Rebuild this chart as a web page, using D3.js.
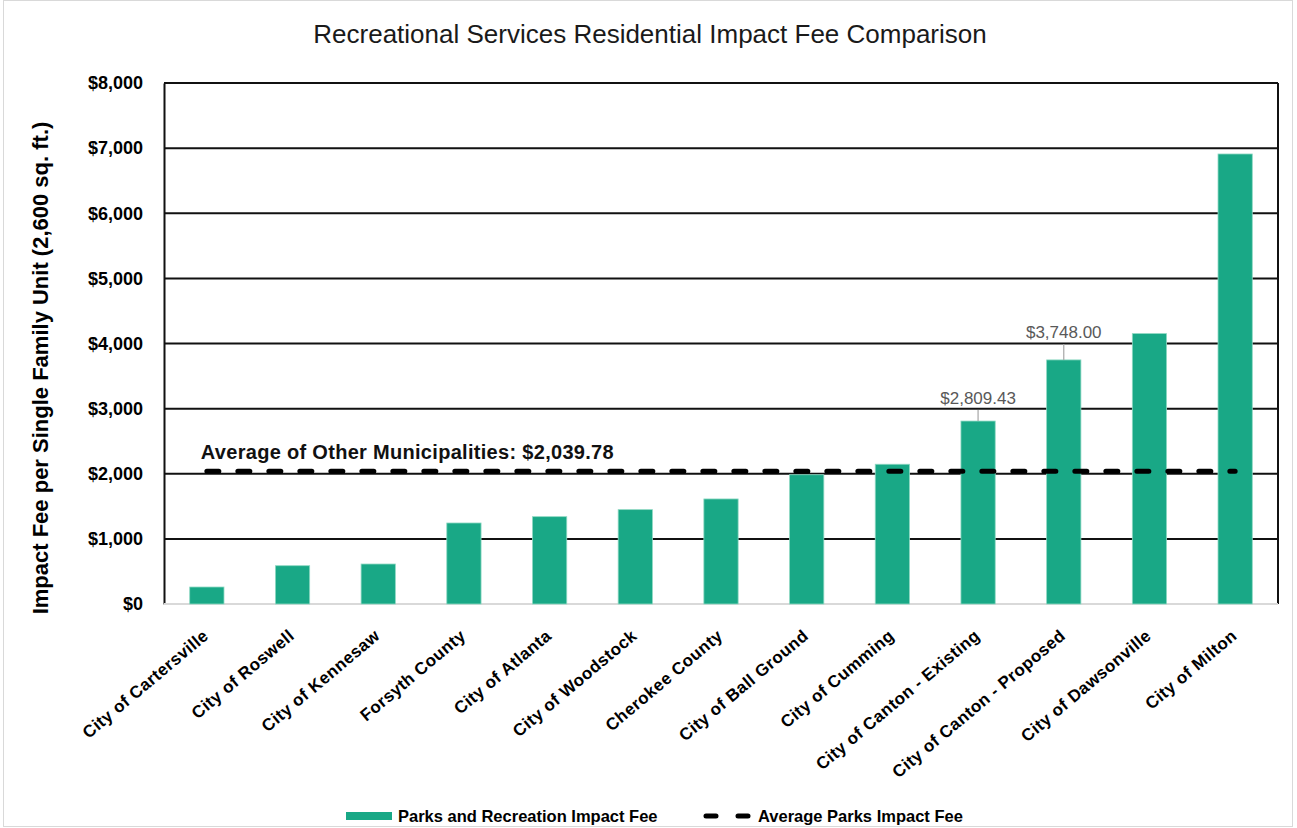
<!DOCTYPE html>
<html>
<head>
<meta charset="utf-8">
<script src="https://cdn.jsdelivr.net/npm/d3@7"></script>
<style>
  body { margin: 0; background: #fff; }
  text { font-family: "Liberation Sans", Arial, sans-serif; }
</style>
</head>
<body>
<div class="chart"></div>
<script>
// data
var categories = ["City of Cartersville", "City of Roswell", "City of Kennesaw", "Forsyth County",
  "City of Atlanta", "City of Woodstock", "Cherokee County", "City of Ball Ground", "City of Cumming",
  "City of Canton - Existing", "City of Canton - Proposed", "City of Dawsonville", "City of Milton"];
var fees = [261, 588, 614, 1244, 1341, 1449, 1613, 1985, 2146, 2809.43, 3748.00, 4152, 6910];
var averageFee = 2039.78;
var labelled = ["City of Canton - Existing", "City of Canton - Proposed"];
var yTicks = [0, 1000, 2000, 3000, 4000, 5000, 6000, 7000, 8000];
var legendLabels = ["Parks and Recreation Impact Fee", "Average Parks Impact Fee"];

var W = 1297, H = 828;
var margin = {top: 83, right: 19, bottom: 224, left: 164},
    width = W - margin.left - margin.right,
    height = H - margin.top - margin.bottom;

var barColor = "#19a886";

var svg = d3.select(".chart")
  .append("svg")
    .attr("width", W)
    .attr("height", H);

// outer chart border
svg.append("rect")
  .attr("x", 3.5).attr("y", 0.5)
  .attr("width", W - 8).attr("height", H - 2)
  .attr("fill", "none")
  .attr("stroke", "#d9d9d9");

svg.append("text")
  .attr("x", 650).attr("y", 43)
  .attr("text-anchor", "middle")
  .attr("font-size", "26px")
  .attr("fill", "#1a1a1a")
  .text("Recreational Services Residential Impact Fee Comparison");

var g = svg.append("g")
  .attr("transform", "translate(" + margin.left + "," + margin.top + ")");

var x = d3.scaleBand()
  .domain(categories)
  .range([0, width])
  .paddingInner(0.6)
  .paddingOuter(0.3);

var y = d3.scaleLinear()
  .domain([0, 8000])
  .range([height, 0]);

// gridlines
g.append("g")
  .selectAll("line")
  .data(yTicks.filter(function(d) { return d > 0; }))
  .enter()
  .append("line")
    .attr("x1", 0).attr("x2", width)
    .attr("y1", function(d) { return y(d); })
    .attr("y2", function(d) { return y(d); })
    .attr("stroke", "#111")
    .attr("stroke-width", 2);

// right border
g.append("line")
  .attr("x1", width).attr("x2", width)
  .attr("y1", 0).attr("y2", height)
  .attr("stroke", "#111").attr("stroke-width", 2);

// y axis
var yAxis = g.append("g")
  .call(d3.axisLeft(y).tickValues(yTicks).tickSize(0).tickPadding(21)
    .tickFormat(function(d) { return "$" + d3.format(",")(d); }));
yAxis.select(".domain").attr("stroke", "#111").attr("stroke-width", 2);
yAxis.selectAll("text")
  .attr("font-size", "18px")
  .attr("font-weight", "bold")
  .attr("fill", "#000");

// bottom axis line
g.append("line")
  .attr("x1", 0).attr("x2", width)
  .attr("y1", height).attr("y2", height)
  .attr("stroke", "#d9d9d9").attr("stroke-width", 2);

// bars
g.selectAll("rect.bar")
  .data(categories)
  .enter()
  .append("rect")
    .attr("class", "bar")
    .attr("x", function(d) { return x(d); })
    .attr("y", function(d, i) { return y(fees[i]); })
    .attr("width", x.bandwidth())
    .attr("height", function(d, i) { return height - y(fees[i]); })
    .attr("fill", barColor)
    .attr("stroke", "#8fd9c3")
    .attr("stroke-width", 0.8);

// x labels
g.append("g")
  .selectAll("text")
  .data(categories)
  .enter()
  .append("text")
    .attr("transform", function(d) {
      return "translate(" + (x(d) + x.bandwidth() / 2 - 1) + "," + (height + 29) + ")rotate(-40)";
    })
    .attr("dy", "0.35em")
    .attr("text-anchor", "end")
    .attr("font-size", "17px")
    .attr("letter-spacing", "0.4px")
    .attr("font-weight", "bold")
    .text(function(d) { return d; });

// average line
var cx = function(d) { return x(d) + x.bandwidth() / 2; };
g.append("line")
  .attr("x1", cx(categories[0]))
  .attr("x2", cx(categories[categories.length - 1]))
  .attr("y1", y(averageFee)).attr("y2", y(averageFee))
  .attr("stroke", "#000")
  .attr("stroke-width", 5)
  .attr("stroke-linecap", "round")
  .attr("stroke-dasharray", "12,19");

g.append("text")
  .attr("x", cx(categories[0]) - 6)
  .attr("y", y(averageFee) - 12)
  .attr("font-size", "20px")
  .attr("letter-spacing", "0.3px")
  .attr("font-weight", "bold")
  .attr("fill", "#111")
  .text("Average of Other Municipalities: $" + d3.format(",.2f")(averageFee));

// data labels with leader lines
var offsets = [17, 22];
labelled.forEach(function(name, k) {
  var i = categories.indexOf(name);
  var top = y(fees[i]);
  g.append("line")
    .attr("x1", cx(name)).attr("x2", cx(name))
    .attr("y1", top - offsets[k] + 6).attr("y2", top)
    .attr("stroke", "#a6a6a6").attr("stroke-width", 1.2);
  g.append("text")
    .attr("x", cx(name))
    .attr("y", top - offsets[k])
    .attr("text-anchor", "middle")
    .attr("font-size", "17px")
    .attr("fill", "#595959")
    .text("$" + d3.format(",.2f")(fees[i]));
});

// y axis title
svg.append("text")
  .attr("transform", "translate(48,368)rotate(-90)")
  .attr("text-anchor", "middle")
  .attr("font-size", "22px")
  .attr("font-weight", "bold")
  .text("Impact Fee per Single Family Unit (2,600 sq. ft.)");

// legend
var legend = svg.append("g");
legend.append("rect")
  .attr("x", 346).attr("y", 812)
  .attr("width", 46).attr("height", 8)
  .attr("fill", barColor);
legend.append("text")
  .attr("x", 398).attr("y", 816)
  .attr("dy", "0.35em")
  .attr("font-size", "16.5px")
  .attr("font-weight", "bold")
  .text(legendLabels[0]);
legend.append("line")
  .attr("x1", 706).attr("x2", 750)
  .attr("y1", 816).attr("y2", 816)
  .attr("stroke", "#000")
  .attr("stroke-width", 5)
  .attr("stroke-linecap", "round")
  .attr("stroke-dasharray", "10,22");
legend.append("text")
  .attr("x", 758).attr("y", 816)
  .attr("dy", "0.35em")
  .attr("font-size", "16.5px")
  .attr("font-weight", "bold")
  .text(legendLabels[1]);
</script>
</body>
</html>
